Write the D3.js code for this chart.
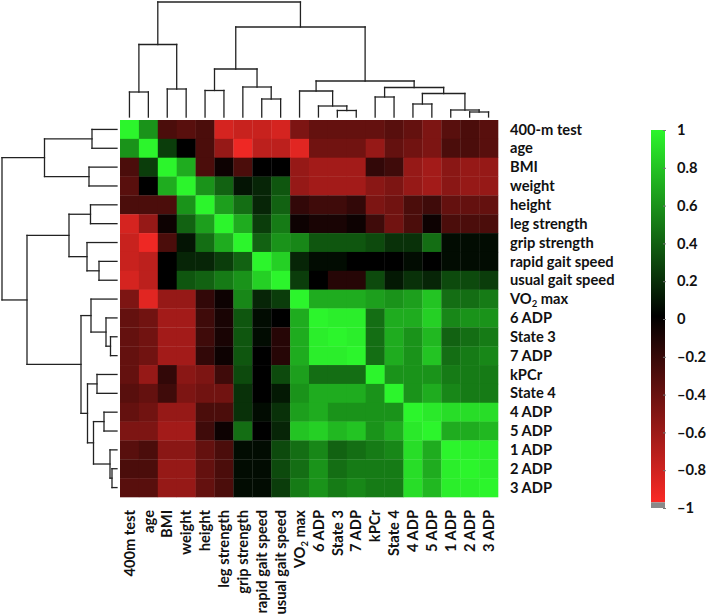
<!DOCTYPE html>
<html>
<head>
<meta charset="utf-8">
<script src="https://cdn.jsdelivr.net/npm/d3@7"></script>
<style>
body { margin: 0; background: #fff; }
text { font-family: Lato, "Open Sans", sans-serif; font-weight: bold; fill: #111; }
</style>
</head>
<body>
<svg id="chart" width="709" height="615"></svg>
<script>
// variable names, same order on rows and columns
var rowLabels = ["400-m test", "age", "BMI", "weight", "height", "leg strength", "grip strength",
  "rapid gait speed", "usual gait speed", "VO2 max", "6 ADP", "State 3", "7 ADP", "kPCr",
  "State 4", "4 ADP", "5 ADP", "1 ADP", "2 ADP", "3 ADP"];
var colLabels = ["400m test", "age", "BMI", "weight", "height", "leg strength", "grip strength",
  "rapid gait speed", "usual gait speed", "VO2 max", "6 ADP", "State 3", "7 ADP", "kPCr",
  "State 4", "4 ADP", "5 ADP", "1 ADP", "2 ADP", "3 ADP"];

// correlation matrix
var corr = [
  [1, 0.6, -0.3, -0.35, -0.3, -0.85, -0.8, -0.8, -0.85, -0.5, -0.4, -0.4, -0.4, -0.4, -0.35, -0.4, -0.5, -0.35, -0.3, -0.35],
  [0.6, 1, 0.25, 0.0, -0.3, -0.6, -0.95, -0.75, -0.75, -0.9, -0.45, -0.45, -0.45, -0.6, -0.4, -0.45, -0.5, -0.3, -0.3, -0.35],
  [-0.3, 0.25, 1, 0.7, -0.3, -0.05, -0.3, 0.0, 0.0, -0.6, -0.65, -0.65, -0.65, -0.2, -0.25, -0.6, -0.65, -0.55, -0.6, -0.6],
  [-0.35, 0.0, 0.7, 1, 0.6, 0.4, 0.08, 0.15, 0.35, -0.6, -0.65, -0.65, -0.65, -0.55, -0.5, -0.6, -0.65, -0.55, -0.6, -0.6],
  [-0.3, -0.3, -0.3, 0.6, 1, 0.65, 0.45, 0.15, 0.4, -0.2, -0.25, -0.25, -0.2, -0.5, -0.45, -0.3, -0.25, -0.4, -0.4, -0.4],
  [-0.85, -0.6, -0.05, 0.4, 0.65, 1, 0.7, 0.25, 0.5, -0.05, -0.1, -0.1, -0.05, -0.25, -0.45, -0.3, -0.05, -0.3, -0.3, -0.3],
  [-0.8, -0.95, -0.3, 0.08, 0.45, 0.7, 1, 0.4, 0.6, 0.55, 0.35, 0.35, 0.35, 0.3, 0.2, 0.2, 0.45, 0.05, 0.05, 0.05],
  [-0.8, -0.75, 0.0, 0.15, 0.15, 0.25, 0.4, 1, 0.85, 0.15, 0.05, 0.05, 0.0, 0.0, 0.0, 0.05, 0.0, 0.05, 0.05, 0.05],
  [-0.85, -0.75, 0.0, 0.35, 0.4, 0.5, 0.6, 0.85, 1, 0.25, 0.0, -0.15, -0.15, 0.3, 0.1, 0.2, 0.15, 0.3, 0.3, 0.25],
  [-0.5, -0.9, -0.6, -0.6, -0.2, -0.05, 0.55, 0.15, 0.25, 1, 0.7, 0.7, 0.7, 0.65, 0.6, 0.65, 0.8, 0.45, 0.45, 0.5],
  [-0.4, -0.45, -0.65, -0.65, -0.25, -0.1, 0.35, 0.05, 0.0, 0.7, 1, 0.97, 0.97, 0.45, 0.7, 0.7, 0.85, 0.55, 0.6, 0.6],
  [-0.4, -0.45, -0.65, -0.65, -0.25, -0.1, 0.35, 0.05, -0.15, 0.7, 0.97, 1, 0.97, 0.45, 0.7, 0.6, 0.75, 0.4, 0.45, 0.5],
  [-0.4, -0.45, -0.65, -0.65, -0.2, -0.05, 0.35, 0.0, -0.15, 0.7, 0.97, 0.97, 1, 0.45, 0.7, 0.6, 0.8, 0.45, 0.5, 0.55],
  [-0.4, -0.6, -0.2, -0.55, -0.5, -0.25, 0.3, 0.0, 0.3, 0.65, 0.45, 0.45, 0.45, 1, 0.6, 0.6, 0.6, 0.5, 0.5, 0.5],
  [-0.35, -0.4, -0.25, -0.5, -0.45, -0.45, 0.2, 0.0, 0.1, 0.6, 0.7, 0.7, 0.7, 0.6, 1, 0.6, 0.7, 0.55, 0.5, 0.5],
  [-0.4, -0.45, -0.6, -0.6, -0.3, -0.3, 0.2, 0.05, 0.2, 0.65, 0.7, 0.6, 0.6, 0.6, 0.6, 1, 0.95, 0.9, 0.9, 0.9],
  [-0.5, -0.5, -0.65, -0.65, -0.25, -0.05, 0.45, 0.0, 0.15, 0.8, 0.85, 0.75, 0.8, 0.6, 0.7, 0.95, 1, 0.7, 0.7, 0.75],
  [-0.35, -0.3, -0.55, -0.55, -0.4, -0.3, 0.05, 0.05, 0.3, 0.45, 0.55, 0.4, 0.45, 0.5, 0.55, 0.9, 0.7, 1, 0.97, 0.97],
  [-0.3, -0.3, -0.6, -0.6, -0.4, -0.3, 0.05, 0.05, 0.3, 0.45, 0.6, 0.45, 0.5, 0.5, 0.5, 0.9, 0.7, 0.97, 1, 0.97],
  [-0.35, -0.35, -0.6, -0.6, -0.4, -0.3, 0.05, 0.05, 0.25, 0.5, 0.6, 0.5, 0.55, 0.5, 0.5, 0.9, 0.75, 0.97, 0.97, 1]
];

// linkage: [childA, childB, height]; ids >= 20 are earlier merges (20 + index)
var linkage = [
  [0, 1, 0.25], [2, 3, 0.28], [20, 21, 0.725], [4, 5, 0.265], [7, 8, 0.18],
  [6, 24, 0.30], [23, 25, 0.48], [11, 12, 0.065], [10, 27, 0.11], [9, 28, 0.26],
  [13, 14, 0.20], [15, 16, 0.13], [18, 19, 0.05], [17, 32, 0.07], [31, 33, 0.235],
  [30, 34, 0.295], [29, 35, 0.36], [26, 36, 0.90], [22, 37, 1.15]
];

var colorTicks = [1, 0.8, 0.6, 0.4, 0.2, 0, -0.2, -0.4, -0.6, -0.8, -1];

var svg = d3.select("#chart");
var n = rowLabels.length;
var idx = d3.range(n);
var fontSize = "14.7px";

var x = d3.scaleBand().domain(idx).range([120, 498]);
var y = d3.scaleBand().domain(idx).range([120, 497]);

var color = d3.scaleLinear()
  .domain([-1, 0, 1])
  .range(["#fa2a26", "#000000", "#2cf52c"]);

// heatmap cells
var cells = [];
corr.forEach(function(row, i) {
  row.forEach(function(v, j) { cells.push({r: i, c: j, v: v}); });
});

svg.append("g").selectAll("rect")
  .data(cells)
  .enter().append("rect")
  .attr("x", function(d) { return x(d.c); })
  .attr("y", function(d) { return y(d.r); })
  .attr("width", x.bandwidth() + 0.3)
  .attr("height", y.bandwidth() + 0.3)
  .attr("fill", function(d) { return color(d.v); });

// dendrograms
var h = d3.scaleLinear().domain([0, 1.15]).range([117, 2]);

function drawDendro(g, pos, vertical) {
  var nodePos = idx.map(function(i) { return pos(i) + pos.bandwidth() / 2; });
  var nodeH = idx.map(function() { return 0; });
  var segs = [];
  linkage.forEach(function(m) {
    var a = m[0], b = m[1], hh = m[2];
    segs.push([nodePos[a], nodeH[a], nodePos[a], hh]);
    segs.push([nodePos[b], nodeH[b], nodePos[b], hh]);
    segs.push([nodePos[a], hh, nodePos[b], hh]);
    nodePos.push((nodePos[a] + nodePos[b]) / 2);
    nodeH.push(hh);
  });
  g.selectAll("line")
    .data(segs)
    .enter().append("line")
    .attr("x1", function(s) { return vertical ? s[0] : h(s[1]); })
    .attr("y1", function(s) { return vertical ? h(s[1]) : s[0]; })
    .attr("x2", function(s) { return vertical ? s[2] : h(s[3]); })
    .attr("y2", function(s) { return vertical ? h(s[3]) : s[2]; })
    .attr("stroke", "#222")
    .attr("stroke-width", 1.3)
    .attr("stroke-linecap", "square");
}

drawDendro(svg.append("g"), x, true);
drawDendro(svg.append("g"), y, false);

// VO2 gets a subscript 2
function labelText(sel) {
  sel.each(function(d) {
    var t = d3.select(this);
    if (d.indexOf("VO2") === 0) {
      t.append("tspan").text("VO");
      t.append("tspan").attr("font-size", "9.5px").attr("dy", "3").text("2");
      t.append("tspan").attr("dy", "-3").text(d.slice(3));
    } else {
      t.text(d);
    }
  });
}

// row labels
svg.append("g").selectAll("text")
  .data(rowLabels)
  .enter().append("text")
  .attr("x", 510)
  .attr("y", function(d, i) { return y(i) + y.bandwidth() / 2; })
  .attr("dy", "0.35em")
  .attr("font-size", fontSize)
  .call(labelText);

// column labels
svg.append("g").selectAll("text")
  .data(colLabels)
  .enter().append("text")
  .attr("transform", function(d, i) {
    return "translate(" + (x(i) + x.bandwidth() / 2) + ",510) rotate(-90)";
  })
  .attr("text-anchor", "end")
  .attr("dy", "0.35em")
  .attr("font-size", fontSize)
  .call(labelText);

// colour bar
var cb = d3.scaleLinear().domain([-1, 1]).range([508, 130]);
var defs = svg.append("defs");
var grad = defs.append("linearGradient")
  .attr("id", "cbgrad")
  .attr("x1", 0).attr("y1", 1).attr("x2", 0).attr("y2", 0);
grad.selectAll("stop")
  .data([-1, -0.5, 0, 0.5, 1])
  .enter().append("stop")
  .attr("offset", function(d) { return (d + 1) / 2; })
  .attr("stop-color", function(d) { return color(d); });

svg.append("rect")
  .attr("x", 651).attr("y", cb(1))
  .attr("width", 14).attr("height", cb(-0.97) - cb(1))
  .attr("fill", "url(#cbgrad)");
svg.append("rect")
  .attr("x", 651).attr("y", cb(-0.97))
  .attr("width", 14).attr("height", cb(-1) - cb(-0.97))
  .attr("fill", "#8a8a8a");

var cbAxis = d3.axisRight(cb)
  .tickValues(colorTicks)
  .tickSize(3)
  .tickFormat(function(d) { return d < 0 ? "\u2013" + Math.abs(d) : String(d); });

var ag = svg.append("g")
  .attr("transform", "translate(663,0)")
  .call(cbAxis);
ag.select(".domain").remove();
ag.selectAll(".tick line").attr("stroke", "#777");
ag.selectAll(".tick text")
  .attr("x", 14)
  .attr("font-family", "Lato, 'Open Sans', sans-serif")
  .attr("font-weight", "bold")
  .attr("font-size", fontSize)
  .attr("fill", "#111");
</script>
</body>
</html>
